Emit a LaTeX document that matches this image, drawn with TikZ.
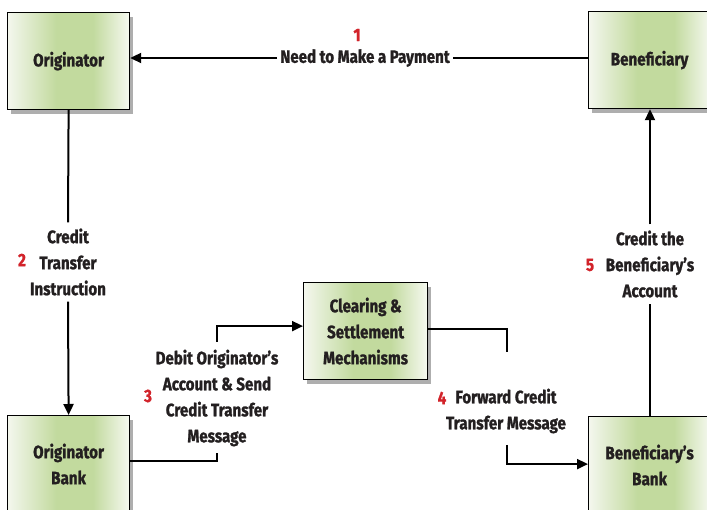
\documentclass[tikz,border=0pt]{standalone}
\usepackage{fontspec}
\setmainfont[FakeStretch=0.84,BoldFeatures={FakeBold=1.2}]{Fira Sans}
\usetikzlibrary{arrows.meta,shadows}
\definecolor{txt}{HTML}{231F20}
\definecolor{num}{HTML}{D2232A}
\definecolor{boxl}{HTML}{F4F7EE}
\definecolor{boxm}{HTML}{C2DA9E}
\definecolor{boxr}{HTML}{F6F9F1}
\pgfdeclarehorizontalshading{boxshade}{100bp}{color(0bp)=(boxl); color(25bp)=(boxl); color(45bp)=(boxm); color(60bp)=(boxm); color(75bp)=(boxr); color(100bp)=(boxr)}
\begin{document}
\begin{tikzpicture}[x=1pt,y=-1pt,
  box/.style={draw=black, line width=1.2pt, minimum width=122pt, minimum height=97pt,
    shading=boxshade,
    drop shadow={shadow xshift=3pt, shadow yshift=-4pt, opacity=0.45, fill=black!70},
    font=\bfseries\fontsize{18}{26}\selectfont, text=txt, align=center, anchor=north west, inner sep=0pt},
  lab/.style={font=\bfseries\fontsize{18}{26}\selectfont, text=txt, align=center, inner sep=4pt},
  num/.style={font=\bfseries\fontsize{18}{20}\selectfont, text=num, inner sep=0pt},
  conn/.style={line width=2pt, draw=black},
  arr/.style={conn, -{Triangle[length=11pt,width=10pt]}}]
\useasboundingbox (0,0) rectangle (707,510);
\fill[white] (0,0) rectangle (707,510);
% boxes
\node[box] (orig) at (7,12) {Originator};
\node[box] (ben) at (588,11) {Beneficiary};
\node[box, minimum width=124pt] (clr) at (303,282) {Clearing \&\\Settlement\\Mechanisms};
\node[box] (obank) at (7,415) {Originator\\Bank};
\node[box] (bbank) at (588,416) {Beneficiary’s\\Bank};
% labels
\node[lab, inner sep=3pt] (l1) at (365,58) {Need to Make a Payment};
\node[num] (n1) at (357,35) {1};
\node[lab, inner sep=6pt] (l2) at (68,262) {Credit\\Transfer\\Instruction};
\node[num] (n2) at (22,260) {2};
\node[lab, inner sep=6pt] (l3) at (217,398) {Debit Originator’s\\Account \& Send\\Credit Transfer\\Message};
\node[num] (n3) at (148,396) {3};
\node[lab, inner sep=6pt] (l4) at (506,411) {Forward Credit\\Transfer Message};
\node[num] (n4) at (442,398) {4};
\node[lab, inner sep=6pt] (l5) at (650,264) {Credit the\\Beneficiary’s\\Account};
\node[num] (n5) at (590,265) {5};
% connector points
\coordinate (c3a) at (217,453);
\coordinate (c3b) at (217,342);
\coordinate (c4a) at (507,352);
\coordinate (c4b) at (507,445);
% connectors
\draw[conn] (ben.west |- l1) -- (l1.east);
\draw[arr] (l1.west) -- (orig.east |- l1);
\draw[conn] (orig.south) -- (l2.north);
\draw[arr] (l2.south) -- (obank.north);
\draw[conn] ([yshift=3pt]obank.east) -| (c3a);
\draw[arr] (c3b) |- ([yshift=5pt]clr.west);
\draw[conn] ([yshift=2pt]clr.east) -| (c4a);
\draw[arr] (c4b) |- ([yshift=1pt]bbank.west);
\draw[conn] (bbank.north -| l5) -- (l5.south);
\draw[arr] (l5.north) -- (ben.south -| l5);
\end{tikzpicture}
\end{document}
